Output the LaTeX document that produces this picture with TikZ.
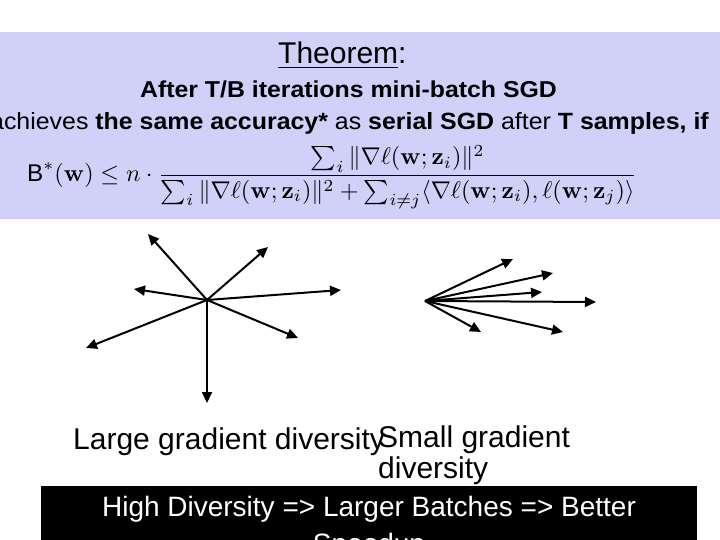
\documentclass[tikz,border=0pt]{standalone}
\usepackage[no-math]{fontspec}
\setmainfont{Liberation Sans}
\usepackage{amsmath}
\usetikzlibrary{arrows.meta}
\definecolor{bandpurple}{RGB}{208,208,249}
\tikzset{
  arr/.style={line width=2pt, -{Triangle[length=11pt,width=10pt]}},
  txt/.style={inner sep=0pt, anchor=base},
}
\begin{document}
\begin{tikzpicture}[x=1pt,y=-1pt]
\useasboundingbox (0,0) rectangle (720,540);
\clip (0,0) rectangle (720,540);
\fill[white] (0,0) rectangle (720,540);
% theorem band
\fill[bandpurple] (0,32) rectangle (720,219);
\node[txt, anchor=base west] (title) at (278,64) {\fontsize{30}{36}\selectfont\underline{Theorem}:};
\node[txt] (l2) at (348.5,98) {\scalebox{1.08}[1]{\fontsize{23}{28}\selectfont\bfseries After T/B iterations mini-batch SGD}};
\node[txt] (l3) at (349.5,130) {\scalebox{1.06}[1]{\fontsize{23.5}{28}\selectfont achieves \textbf{the same accuracy*} as \textbf{serial SGD} after \textbf{T samples, if}}};
\node[inner sep=0pt, anchor=west] (formula) at (27,177) {\resizebox{610pt}{!}{$\text{B}^*(\mathbf{w}) \le n\cdot \displaystyle\frac{\sum_i \|\nabla \ell(\mathbf{w};\mathbf{z}_i)\|^2}{\sum_i \|\nabla\ell(\mathbf{w};\mathbf{z}_i)\|^2 + \sum_{i\neq j}\langle \nabla\ell(\mathbf{w};\mathbf{z}_i), \ell(\mathbf{w};\mathbf{z}_j)\rangle}$}};
% large diversity star
\coordinate (c1) at (207,300);
\coordinate (a1) at (148,234);
\coordinate (a2) at (268,247);
\coordinate (a3) at (134,289);
\coordinate (a4) at (341,290);
\coordinate (a5) at (86,348);
\coordinate (a6) at (298,338);
\coordinate (a7) at (207,403);
\foreach \p in {a1,a2,a3,a4,a5,a6,a7} \draw[arr] (c1) -- (\p);
% small diversity fan
\coordinate (c2) at (425,301);
\coordinate (b1) at (513,259);
\coordinate (b2) at (553,273);
\coordinate (b3) at (542,292);
\coordinate (b4) at (596,302);
\coordinate (b5) at (563,332);
\coordinate (b6) at (481,332);
\foreach \p in {b1,b2,b3,b4,b5,b6} \draw[arr] (c2) -- (\p);
% labels
\node[txt, anchor=base west] (lab1) at (73,449) {\fontsize{30}{36}\selectfont Large gradient diversity};
\node[txt, anchor=base west] (lab2) at (378,447) {\fontsize{30}{36}\selectfont Small gradient};
\node[txt, anchor=base west] (lab3) at (378,478) {\fontsize{30}{36}\selectfont diversity};
% bottom black box
\fill[black] (41,486) rectangle (697,560);
\node[txt, text=white] (b1t) at (369,516) {\fontsize{28}{33}\selectfont High Diversity => Larger Batches => Better};
\node[txt, text=white] (b2t) at (369,553) {\fontsize{28}{33}\selectfont Speedup};
\end{tikzpicture}
\end{document}
